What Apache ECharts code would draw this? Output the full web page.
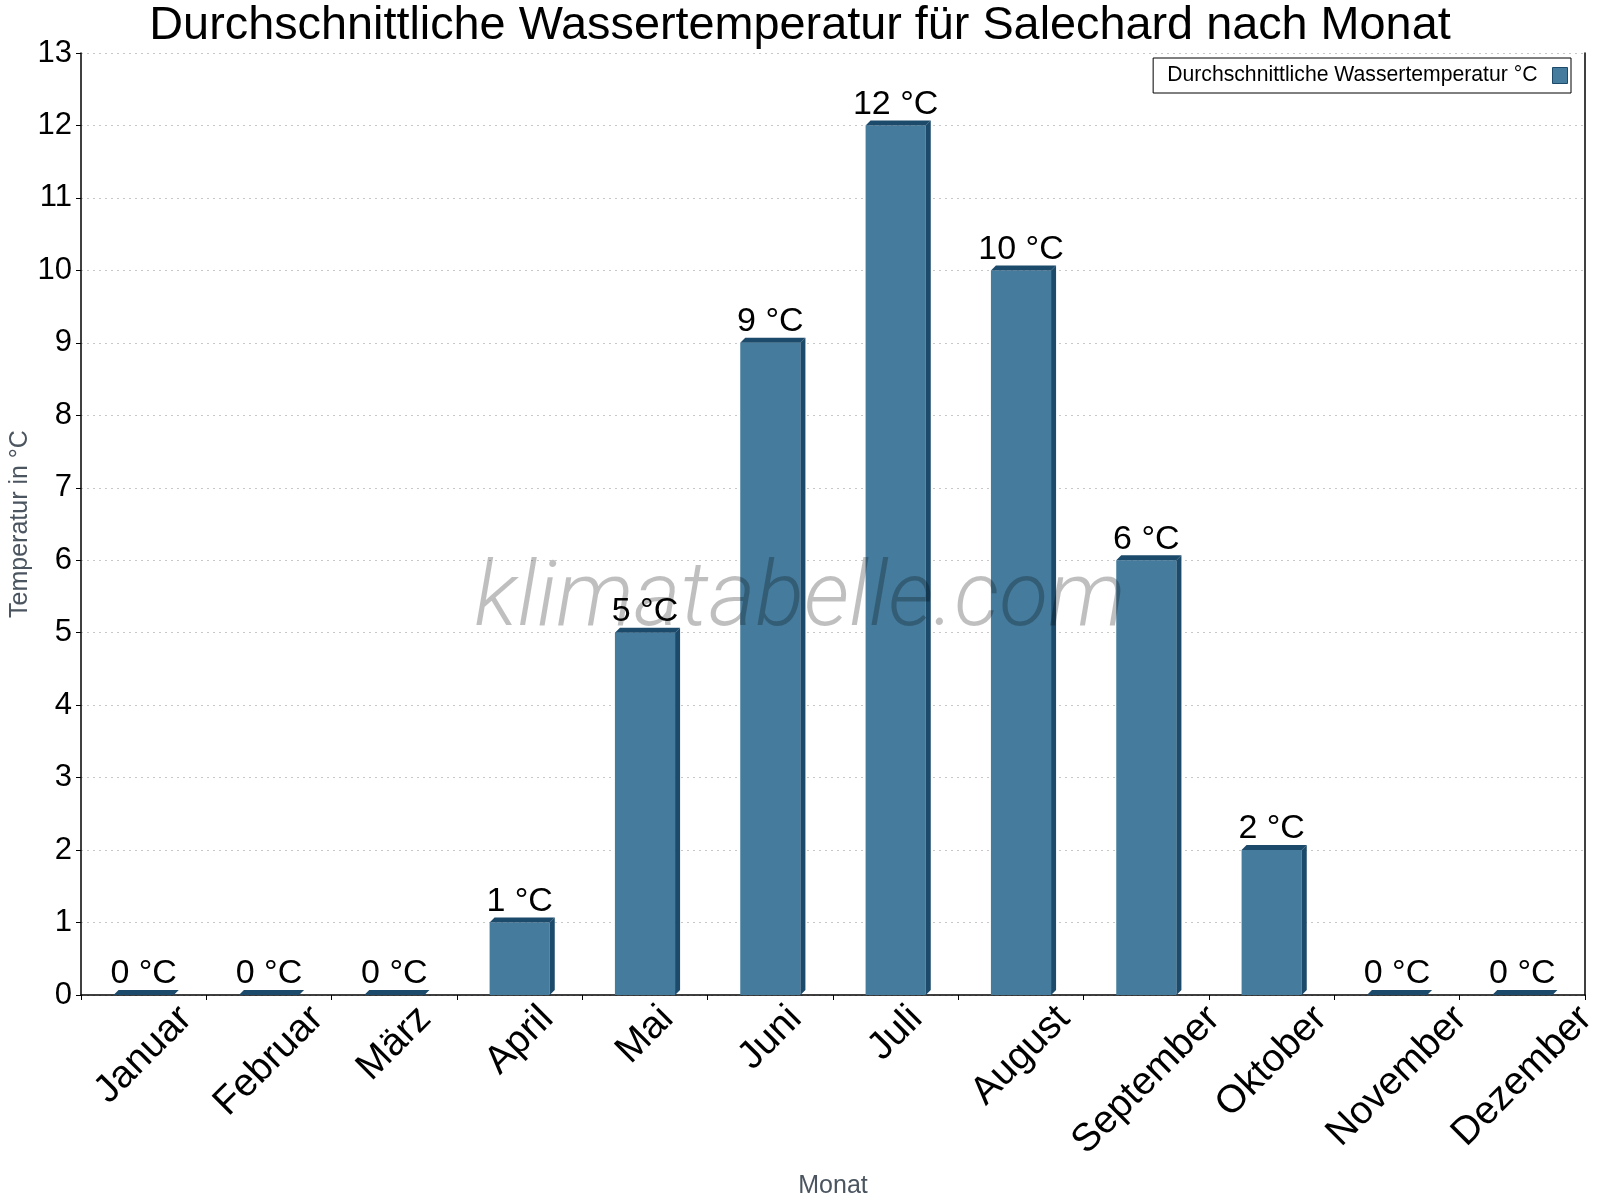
<!doctype html>
<html lang="de">
<head>
    <meta charset="utf-8">
    <title>Wassertemperatur Salechard</title>
    <script src="https://cdn.jsdelivr.net/npm/echarts@6/dist/echarts.min.js"></script>
    <style>
        html, body { margin: 0; padding: 0; background: #fff; }
        #main { width: 1600px; height: 1200px; }
    </style>
</head>
<body>
    <div id="main"></div>
    <script>
        // Monate und Werte
        var monate = ['Januar', 'Februar', 'März', 'April', 'Mai', 'Juni', 'Juli', 'August', 'September', 'Oktober', 'November', 'Dezember'];
        var wassertemp = [0, 0, 0, 1, 5, 9, 12, 10, 6, 2, 0, 0];
        var serienName = 'Durchschnittliche Wassertemperatur °C';

        var font = 'Liberation Sans, Arial, sans-serif';
        var vorne = '#457b9d';
        var dunkel = '#1b4a6b';
        var tiefe = 5;
        var xFont = 39;

        // gedrehte Monatsnamen: Mitte unter der Kategorie, Oberkante fest
        // -> pro Label ein Rich-Style mit Padding nach Textbreite
        var ctx = document.createElement('canvas').getContext('2d');
        ctx.font = xFont + 'px "Liberation Sans", Arial, sans-serif';
        var richMonate = {};
        monate.forEach(function (m, i) {
            var p = (ctx.measureText(m).width + xFont) / 2;
            richMonate['m' + i] = { fontSize: xFont, fontFamily: font, color: '#000', padding: [p, p, 0, 0] };
        });

        var myChart = echarts.init(document.getElementById('main'));

        // 3D-Balken: Front, rechte Seite, Oberseite
        function zeichneBalken(params, api) {
            var idx = api.value(0);
            var v = api.value(1);
            var basis = api.coord([idx, 0]);
            var oben = api.coord([idx, v]);
            var w = api.size([1, 0])[0] * 0.48;
            var x0 = basis[0] - w / 2, x1 = basis[0] + w / 2;
            var yb = basis[1], yt = oben[1];
            var d = tiefe;
            return {
                type: 'group',
                children: [
                    { type: 'rect', shape: { x: x0, y: yt, width: w, height: yb - yt }, style: { fill: vorne } },
                    { type: 'polygon', shape: { points: [[x1, yt], [x1 + d, yt - d], [x1 + d, yb - d], [x1, yb]] }, style: { fill: dunkel } },
                    { type: 'polygon', shape: { points: [[x0, yt], [x0 + d, yt - d], [x1 + d, yt - d], [x1, yt]] }, style: { fill: dunkel } }
                ]
            };
        }

        var option = {
            backgroundColor: '#fff',
            animation: false,
            textStyle: { fontFamily: font },
            title: {
                text: 'Durchschnittliche Wassertemperatur für Salechard nach Monat',
                left: 'center',
                top: -2,
                textStyle: { fontSize: 46.8, fontWeight: 'normal', color: '#000', fontFamily: font }
            },
            legend: {
                data: [{ name: serienName, icon: 'rect', itemStyle: { color: vorne, borderColor: dunkel, borderWidth: 1 } }],
                right: 29,
                top: 58,
                align: 'right',
                itemWidth: 15,
                itemHeight: 16,
                borderColor: '#000',
                borderWidth: 1,
                borderRadius: 0,
                padding: [7, 3, 7, 14],
                textStyle: { fontSize: 21.2, color: '#000', fontFamily: font, padding: [0, 10, 0, 0] }
            },
            grid: { left: 81, right: 15, top: 53, bottom: 205, containLabel: false, outerBoundsMode: 'none' },
            xAxis: {
                type: 'category',
                data: monate,
                name: 'Monat',
                nameLocation: 'middle',
                nameGap: 179,
                nameMoveOverlap: false,
                nameTextStyle: { fontSize: 25, color: '#4b5560', fontFamily: font },
                axisLine: { lineStyle: { color: '#000', width: 1.5 } },
                axisTick: { show: true, length: 5, lineStyle: { color: '#000' } },
                axisLabel: {
                    interval: 0,
                    rotate: 45,
                    align: 'center',
                    verticalAlign: 'middle',
                    margin: 4,
                    formatter: function (value, i) {
                        return '{m' + i + '|' + value + '}';
                    },
                    rich: richMonate
                }
            },
            yAxis: [{
                type: 'value',
                min: 0,
                max: 13,
                interval: 1,
                name: 'Temperatur in °C',
                nameLocation: 'middle',
                nameGap: 48,
                nameRotate: 90,
                nameMoveOverlap: false,
                nameTextStyle: { fontSize: 25, color: '#4b5560', fontFamily: font },
                axisLine: { show: true, lineStyle: { color: '#000', width: 1.5 } },
                axisTick: { show: true, length: 5, lineStyle: { color: '#000' } },
                axisLabel: { fontSize: 31, color: '#000', margin: 9, fontFamily: font },
                splitLine: { show: true, lineStyle: { color: '#c8c8c8', type: [2, 4] } }
            }, {
                type: 'value',
                position: 'right',
                min: 0,
                max: 13,
                interval: 1,
                axisLine: { show: true, lineStyle: { color: '#000', width: 1.5 } },
                axisTick: { show: false },
                axisLabel: { show: false },
                splitLine: { show: false }
            }],
            series: [{
                name: serienName,
                type: 'custom',
                renderItem: zeichneBalken,
                itemStyle: { color: vorne },
                encode: { x: 0, y: 1 },
                data: wassertemp.map(function (v, i) { return [i, v]; }),
                z: 2
            }, {
                name: 'beschriftung',
                type: 'bar',
                barWidth: '48%',
                data: wassertemp,
                itemStyle: { color: 'rgba(0,0,0,0)' },
                label: {
                    show: true,
                    position: 'top',
                    distance: 4,
                    formatter: '{c} °C',
                    fontSize: 34,
                    color: '#000',
                    fontFamily: font
                },
                z: 4
            }],
            graphic: [{
                type: 'text',
                left: 'center',
                top: 557,
                z: 3,
                style: {
                    text: 'klimatabelle.com',
                    fontSize: 90,
                    fontStyle: 'italic',
                    fontWeight: 300,
                    fontFamily: 'Roboto, Liberation Sans, sans-serif',
                    fill: 'rgba(0,0,0,0.25)'
                }
            }]
        };

        myChart.setOption(option);
    </script>
</body>
</html>
